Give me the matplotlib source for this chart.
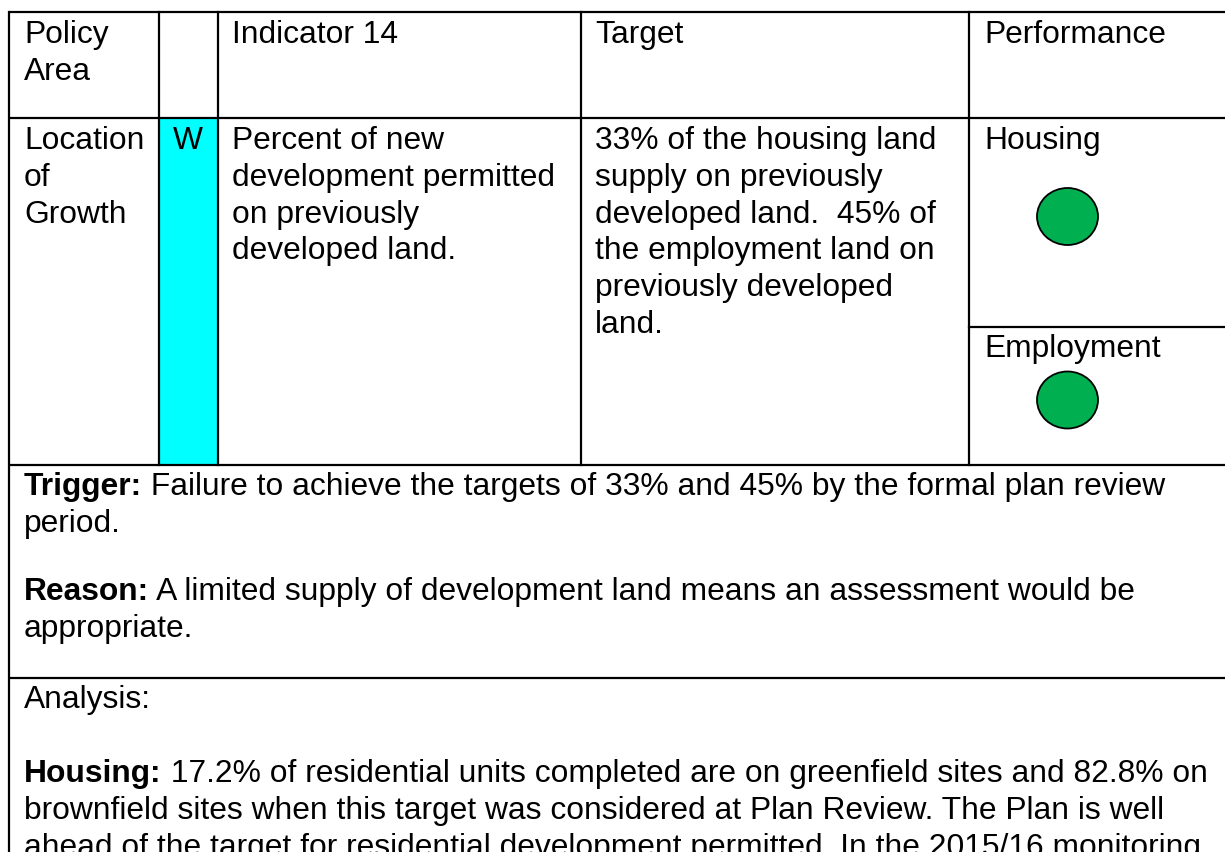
import matplotlib
matplotlib.use("Agg")
import matplotlib.pyplot as plt
from matplotlib.patches import Ellipse, Rectangle

plt.rcParams['font.family'] = ['Liberation Sans', 'DejaVu Sans']

# table content
header_cells = ["Policy\nArea", "", "Indicator 14", "Target", "Performance"]
policy_area = ["Location", "of", "Growth"]
rag_letter = "W"
indicator_lines = ["Percent of new", "development permitted", "on previously", "developed land."]
target_lines = ["33% of the housing land", "supply on previously", "developed land.  45% of",
                "the employment land on", "previously developed", "land."]
performance_labels = ["Housing", "Employment"]
performance_status = ["#00B050", "#00B050"]

trigger_bold = "Trigger:"
trigger_lines = [" Failure to achieve the targets of 33% and 45% by the formal plan review", "period."]
reason_bold = "Reason:"
reason_lines = [" A limited supply of development land means an assessment would be", "appropriate."]
analysis_title = "Analysis:"
housing_bold = "Housing:"
housing_lines = [" 17.2% of residential units completed are on greenfield sites and 82.8% on",
                 "brownfield sites when this target was considered at Plan Review. The Plan is well",
                 "ahead of the target for residential development permitted. In the 2015/16 monitoring"]

# layout (pixels)
W, H = 1225, 852
fs = 22.9
lh = 36.8
col_x = [9, 159, 217.5, 581, 969, 1240]
text_x = [24, 173, 232, 595, 984]
row_y = [12, 118, 465, 678]
split_y = 327
lw = 1.6

fig = plt.figure(figsize=(W / 100, H / 100), dpi=100)
ax = fig.add_axes([0, 0, 1, 1])
ax.set_xlim(0, W)
ax.set_ylim(H, 0)
ax.axis("off")

# cyan rag column
ax.add_patch(Rectangle((col_x[1], row_y[1]), col_x[2] - col_x[1], row_y[2] - row_y[1],
                       facecolor="#00FFFF", edgecolor="none", zorder=0))

# grid lines
for y in row_y:
    ax.plot([col_x[0], col_x[-1]], [y, y], color="black", lw=lw, solid_capstyle="butt")
for x in col_x[1:5]:
    ax.plot([x, x], [row_y[0], row_y[2]], color="black", lw=lw)
ax.plot([col_x[0], col_x[0]], [row_y[0], H + 5], color="black", lw=lw)
ax.plot([col_x[4], col_x[-1]], [split_y, split_y], color="black", lw=lw)


def lines_at(x, y0, lines, **kw):
    for i, s in enumerate(lines):
        ax.text(x, y0 + i * lh, s, fontsize=fs, va="baseline", ha="left", **kw)


# header
for i, cell in enumerate(header_cells):
    if cell:
        lines_at(text_x[i], 43, cell.split("\n"))

# body row
y1 = 149
lines_at(text_x[0], y1, policy_area)
lines_at(text_x[1], y1, [rag_letter])
lines_at(text_x[2], y1, indicator_lines)
lines_at(text_x[3], y1, target_lines)
lines_at(text_x[4], y1, [performance_labels[0]])
lines_at(text_x[4], 357, [performance_labels[1]])
for cy, col in zip([216.5, 400], performance_status):
    ax.add_patch(Ellipse((1067.5, cy), 61, 57, facecolor=col, edgecolor="black", lw=1.3))

fig.canvas.draw()
renderer = fig.canvas.get_renderer()


def bold_para(x, y0, bold, lines):
    t = ax.text(x, y0, bold, fontsize=fs, fontweight="bold", va="baseline", ha="left")
    w = t.get_window_extent(renderer).width
    ax.text(x + w, y0, lines[0], fontsize=fs, va="baseline", ha="left")
    lines_at(x, y0 + lh, lines[1:])


bold_para(text_x[0], 495, trigger_bold, trigger_lines)
bold_para(text_x[0], 600, reason_bold, reason_lines)
lines_at(text_x[0], 708, [analysis_title])
bold_para(text_x[0], 782, housing_bold, housing_lines)

fig.savefig("out.png", dpi=100)
